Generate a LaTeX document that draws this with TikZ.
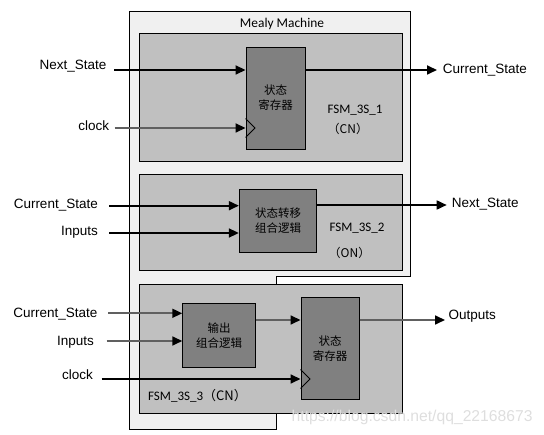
\documentclass[tikz,border=0pt]{standalone}
\usepackage{fontspec}
\setmainfont{Liberation Sans}
\newfontfamily\calib{Carlito}
\newfontfamily\cjk{Noto Sans CJK SC}
\usetikzlibrary{arrows.meta, calc}

\definecolor{framefill}{RGB}{240,240,240}
\definecolor{boxfill}{RGB}{192,192,192}
\definecolor{blockfill}{RGB}{128,128,128}
\definecolor{wiregray}{RGB}{96,96,96}
\definecolor{wmark}{RGB}{222,222,222}

\begin{document}
\begin{tikzpicture}[x=1pt,y=-1pt]
        \tikzset{
            block/.style={draw=black,fill=blockfill,line width=0.9pt,inner sep=0pt,align=center,
                font=\cjk\fontsize{11.5}{15}\selectfont},
            panel/.style={draw=black,fill=boxfill,line width=1pt},
            sig/.style={line width=1.7pt,-{Triangle[length=10pt,width=9pt,color=black]}},
            gsig/.style={sig,draw=wiregray},
            lbl/.style={font=\fontsize{13.5}{16}\selectfont,inner sep=0pt},
            tag/.style={font=\calib\fontsize{13}{16}\selectfont,inner sep=0pt,anchor=base west},
            par/.style={font=\cjk\fontsize{12}{16}\selectfont,inner sep=0pt,anchor=base west},
            clk/.style={line width=0.8pt}
        }
        \useasboundingbox (0,0) rectangle (544,435);

        % Mealy frame
        \draw[fill=framefill,line width=0.9pt] (129.3,11) -- (410,11) -- (410,276.7)
            -- (276.7,276.7) -- (276.7,429.3) -- (129.3,429.3) -- cycle;
        \node[font=\calib\fontsize{13.4}{16}\selectfont,anchor=base,inner sep=0pt] (title) at (282,28) {Mealy Machine};

        % the three parts
        \draw[panel] (139.5,34) rectangle (402.7,161.7);
        \draw[panel] (139.5,175) rectangle (402.7,270.3);
        \draw[panel] (139.5,284.3) rectangle (402.7,413.3);

        \node[block,minimum width=59pt,minimum height=102pt] (reg1) at (275.5,98) {状态\\寄存器};
        \node[block,minimum width=77.4pt,minimum height=63.3pt] (nxt) at (278,220.7) {状态转移\\组合逻辑};
        \node[block,minimum width=72.6pt,minimum height=64.4pt] (outl) at (219,335.5) {输出\\组合逻辑};
        \node[block,minimum width=58.3pt,minimum height=102pt] (reg3) at (330.1,348.3) {状态\\寄存器};

        \node[tag] (fsm1) at (327.3,113.3) {FSM\_3S\_1};
        \node[par] (cn1) at (327.5,134) {（CN）};
        \node[tag] (fsm2) at (329.3,231.7) {FSM\_3S\_2};
        \node[par] (on2) at (328.5,257.7) {（ON）};
        \node[tag] (fsm3) at (148,400.5) {FSM\_3S\_3\cjk（CN）};

        % FSM_3S_1
        \coordinate (ns1) at (114,70);
        \coordinate (ck1) at (114.7,128);
        \coordinate (cs1) at (437,70);
        \node[lbl,anchor=base east] (lns1) at (106.7,69.5) {Next\_State};
        \node[lbl,anchor=base east] (lck1) at (109.3,130.5) {clock};
        \node[lbl,anchor=base west] (lcs1) at (442.7,74) {Current\_State};
        \draw[sig] (ns1) -- (reg1.west |- ns1);
        \draw[gsig] (ck1) -- (reg1.west |- ck1);
        \draw[sig] (reg1.east |- cs1) -- (cs1);
        \draw[clk] (reg1.west |- ck1) ++(0,-9.5) -- ++(9.5,9.5) -- ++(-9.5,9.5);

        % FSM_3S_2
        \coordinate (cs2) at (109,205.7);
        \coordinate (in2) at (109,233);
        \coordinate (ns2) at (446.7,205);
        \node[lbl,anchor=base east] (lcs2) at (98,208.8) {Current\_State};
        \node[lbl,anchor=base east] (lin2) at (98,235.7) {Inputs};
        \node[lbl,anchor=base west] (lns2) at (451.7,208) {Next\_State};
        \draw[sig] (cs2) -- (nxt.west |- cs2);
        \draw[sig] (in2) -- (nxt.west |- in2);
        \draw[sig] (nxt.east |- ns2) -- (ns2);

        % FSM_3S_3
        \coordinate (cs3) at (108.3,313.3);
        \coordinate (in3) at (106.7,341);
        \coordinate (ck3) at (101.7,379);
        \coordinate (ou3) at (445,320);
        \node[lbl,anchor=base east] (lcs3) at (97.7,317.3) {Current\_State};
        \node[lbl,anchor=base east] (lin3) at (94,345.7) {Inputs};
        \node[lbl,anchor=base east] (lck3) at (93,380) {clock};
        \node[lbl,anchor=base west] (lou3) at (448.3,320) {Outputs};
        \draw[gsig] (cs3) -- (outl.west |- cs3);
        \draw[gsig] (in3) -- (outl.west |- in3);
        \draw[sig] (ck3) -- (reg3.west |- ck3);
        \draw[gsig] (outl.east |- ou3) -- (reg3.west |- ou3);
        \draw[gsig] (reg3.east |- ou3) -- (ou3);
        \draw[clk] (reg3.west |- ck3) ++(0,-9.5) -- ++(9.5,9.5) -- ++(-9.5,9.5);

        \node[font=\fontsize{15.7}{18}\selectfont,text=wmark,anchor=base west,inner sep=0pt] (wm)
            at (291.5,421.7) {https://blog.csdn.net/qq\_22168673};
\end{tikzpicture}
\end{document}
